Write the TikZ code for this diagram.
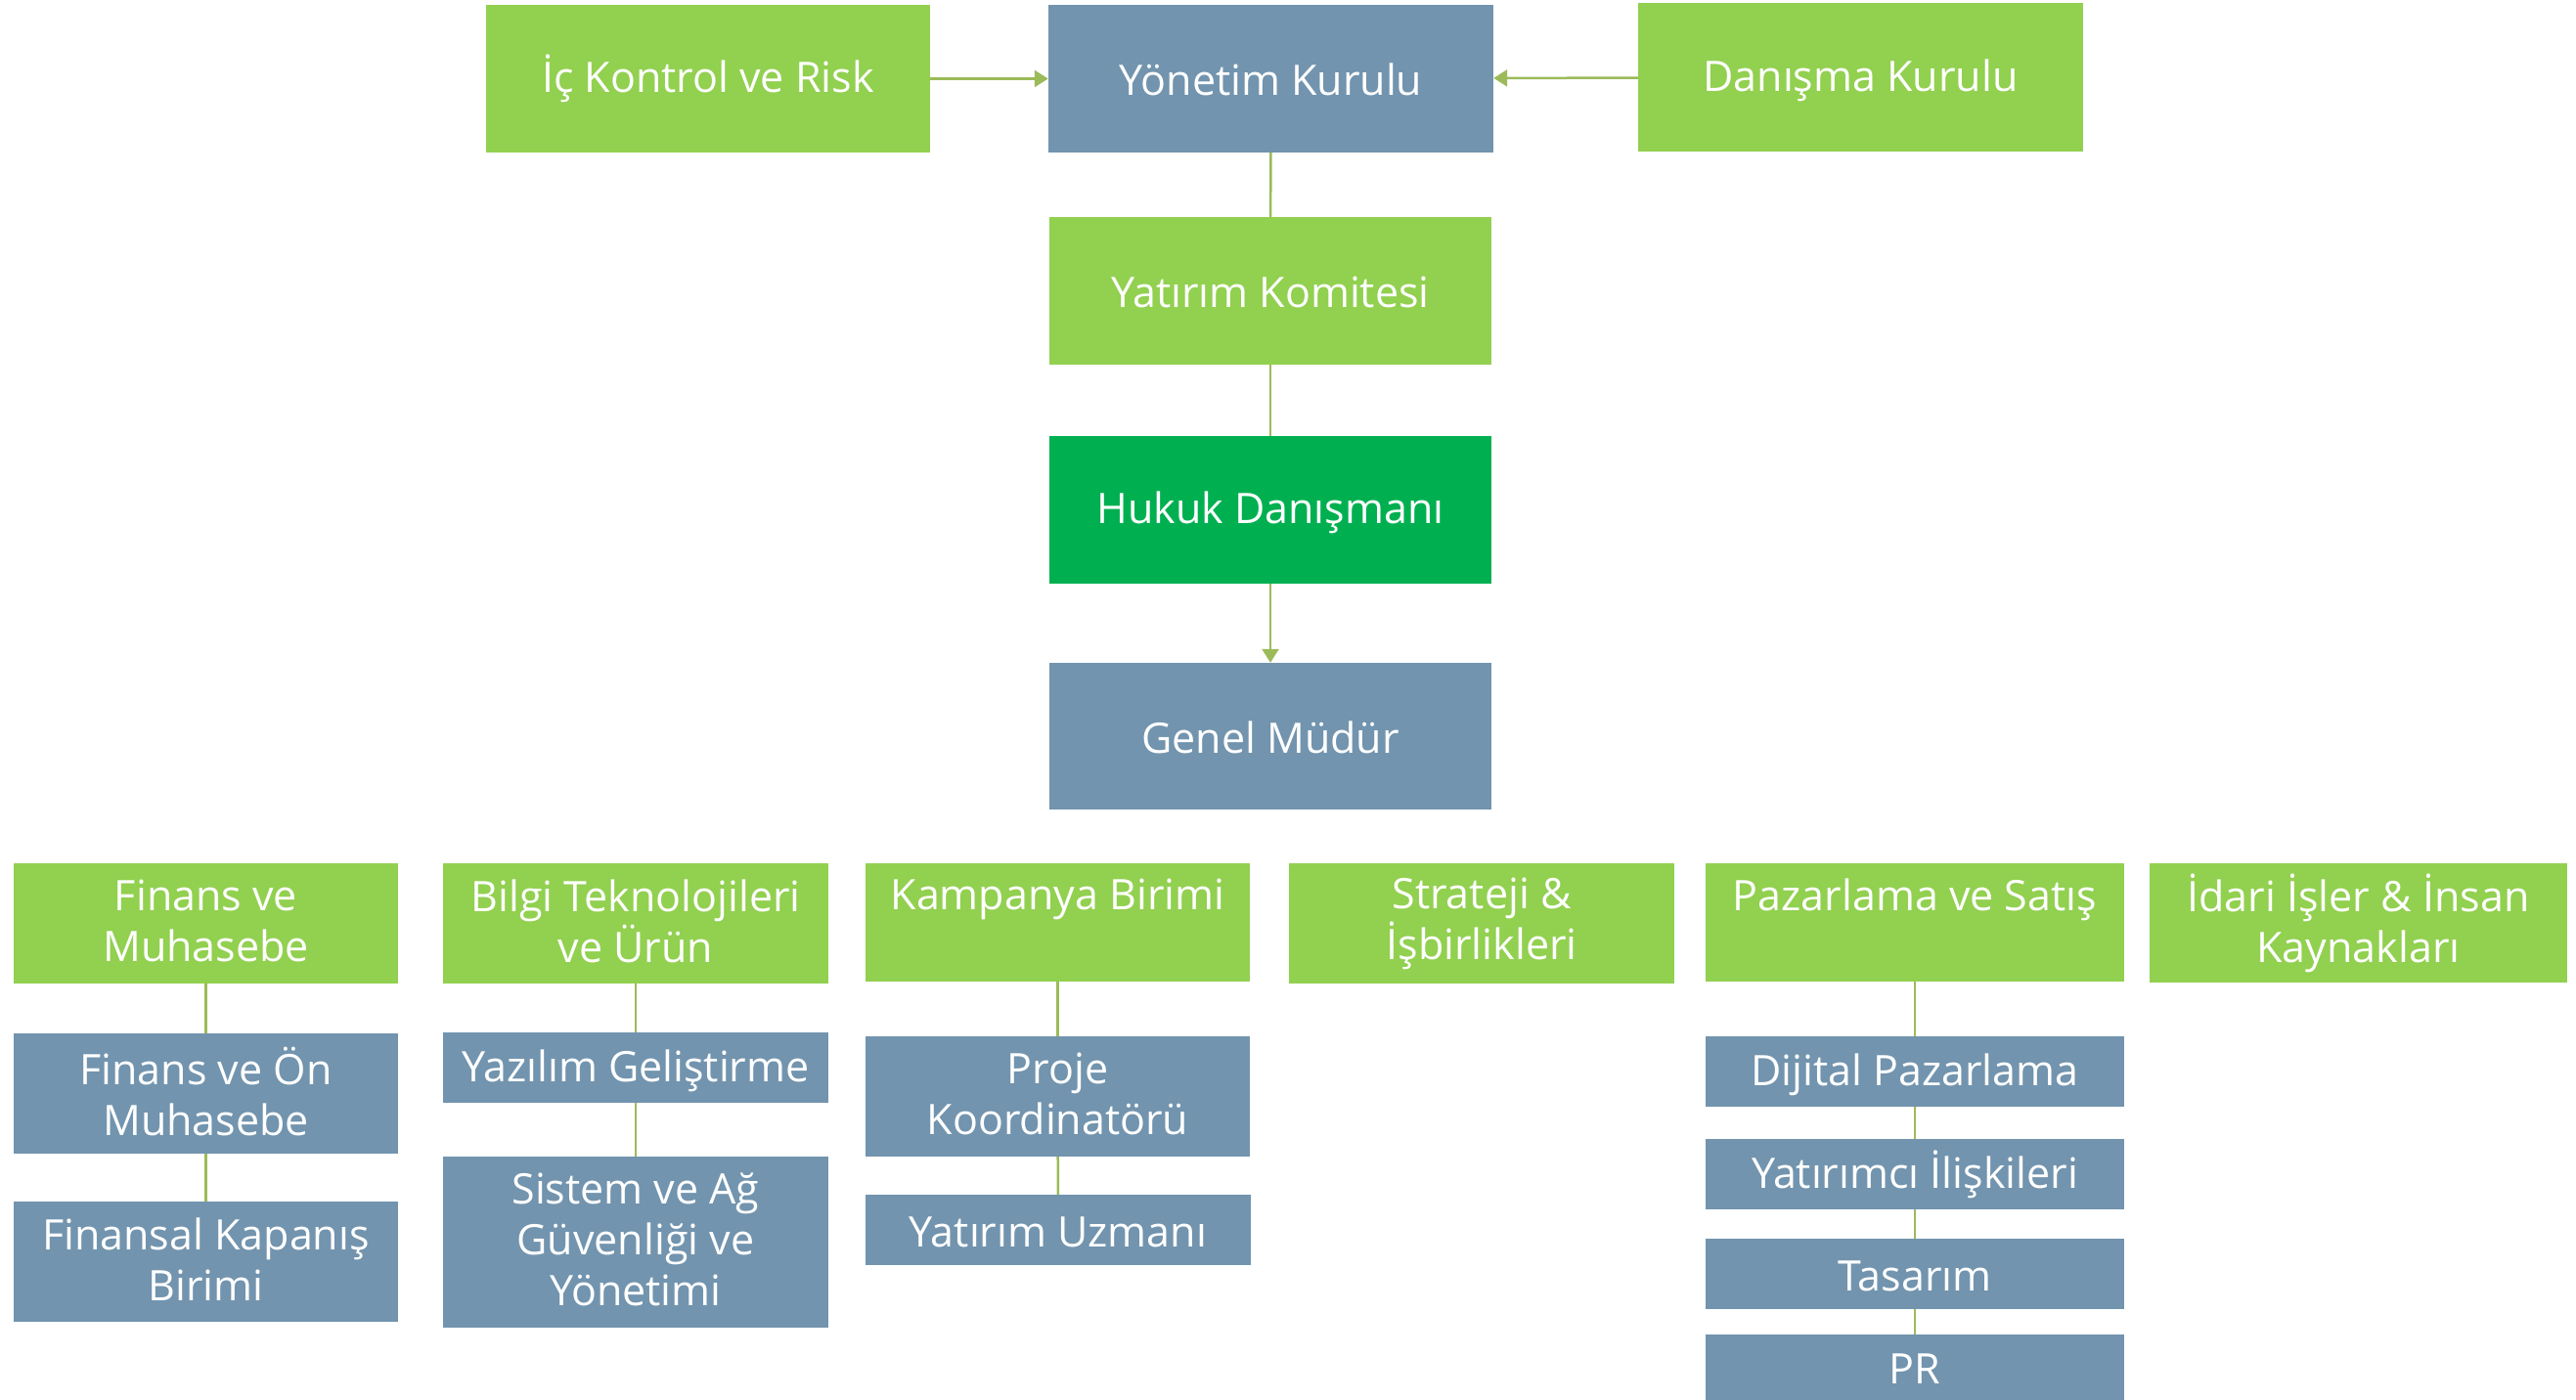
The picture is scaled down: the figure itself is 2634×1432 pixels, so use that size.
\documentclass[tikz,border=0pt]{standalone}
\usepackage{fontspec}
\setmainfont{Open Sans}
\usetikzlibrary{arrows.meta}
\definecolor{lgreen}{HTML}{92D050}
\definecolor{dgreen}{HTML}{00B050}
\definecolor{bgray}{HTML}{7294AE}
\definecolor{conn}{HTML}{9BBB59}
\newcommand\mystrut{\rule[-5pt]{0pt}{44pt}}
\tikzset{
  box/.style={rectangle, inner sep=0pt, text=white, align=center,
    font=\fontsize{43}{52}\selectfont,
    execute at begin node=\mystrut, execute at end node=\mystrut},
  gbox/.style={box, fill=lgreen},
  hbox/.style={box, fill=dgreen},
  bbox/.style={box, fill=bgray},
  sz/.style n args={2}{minimum width=#1pt, minimum height=#2pt},
  link/.style={draw=conn, line width=2.5pt},
  arr/.style={link, -{Triangle[width=17pt,length=14pt]}},
}
\begin{document}
\begin{tikzpicture}[x=1pt,y=-1pt]
\useasboundingbox[fill=white] (0,0) rectangle (2634,1432);
% top part
\node[gbox, sz={454}{151}] (ic) at (724,80.5) {İç Kontrol ve Risk};
\node[bbox, sz={455}{151}] (yk) at (1299.5,80.5) {Yönetim Kurulu};
\node[gbox, sz={455}{152}] (dk) at (1902.5,79) {Danışma Kurulu};
\node[gbox, sz={452}{151}] (kom) at (1299,297.5) {Yatırım Komitesi};
\node[hbox, sz={452}{151}] (huk) at (1299,521.5) {Hukuk Danışmanı};
\node[bbox, sz={452}{150}] (gm) at (1299,753) {Genel Müdür};
\draw[arr] (ic) -- (yk);
\draw[arr] (dk) -- (yk);
\draw[link] (yk) -- (kom);
\draw[link] (kom) -- (huk);
\draw[arr] (huk) -- (gm);
% column 1
\node[gbox, sz={393}{123}] (fm) at (210.5,944.5) {Finans ve\\Muhasebe};
\node[bbox, sz={393}{123}] (fom) at (210.5,1118.5) {Finans ve Ön\\Muhasebe};
\node[bbox, sz={393}{123}] (fk) at (210.5,1290.5) {Finansal Kapanış\\Birimi};
\draw[link] (fm) -- (fom);
\draw[link] (fom) -- (fk);
% column 2
\node[gbox, sz={394}{123}] (bt) at (650,944.5) {Bilgi Teknolojileri\\ve Ürün};
\node[bbox, sz={394}{72}] (yg) at (650,1092) {Yazılım Geliştirme};
\node[bbox, sz={394}{175}] (sa) at (650,1270.5) {Sistem ve Ağ\\Güvenliği ve\\Yönetimi};
\draw[link] (bt) -- (yg);
\draw[link] (yg) -- (sa);
% column 3
\node[gbox, sz={393}{121}] (kb) at (1081.5,943.5) {Kampanya Birimi\\\mbox{}};
\node[bbox, sz={393}{123}] (pk) at (1081.5,1121.5) {Proje\\Koordinatörü};
\node[bbox, sz={394}{72}] (yu) at (1082,1258) {Yatırım Uzmanı};
\draw[link] (kb) -- (pk);
\draw[link] (pk) -- (yu);
% column 4
\node[gbox, sz={394}{123}] (si) at (1515,944.5) {Strateji \&\\İşbirlikleri};
% column 5
\node[gbox, sz={428}{121}] (ps) at (1958,943.5) {Pazarlama ve Satış\\\mbox{}};
\node[bbox, sz={428}{72}] (dp) at (1958,1096) {Dijital Pazarlama};
\node[bbox, sz={428}{72}] (yi) at (1958,1201) {Yatırımcı İlişkileri};
\node[bbox, sz={428}{72}] (ta) at (1958,1303) {Tasarım};
\node[bbox, sz={428}{67}] (pr) at (1958,1398.5) {PR};
\draw[link] (ps) -- (dp);
\draw[link] (dp) -- (yi);
\draw[link] (yi) -- (ta);
\draw[link] (ta) -- (pr);
% column 6
\node[gbox, sz={427}{122}] (id) at (2411.5,944) {İdari İşler \& İnsan\\Kaynakları};
\end{tikzpicture}
\end{document}
